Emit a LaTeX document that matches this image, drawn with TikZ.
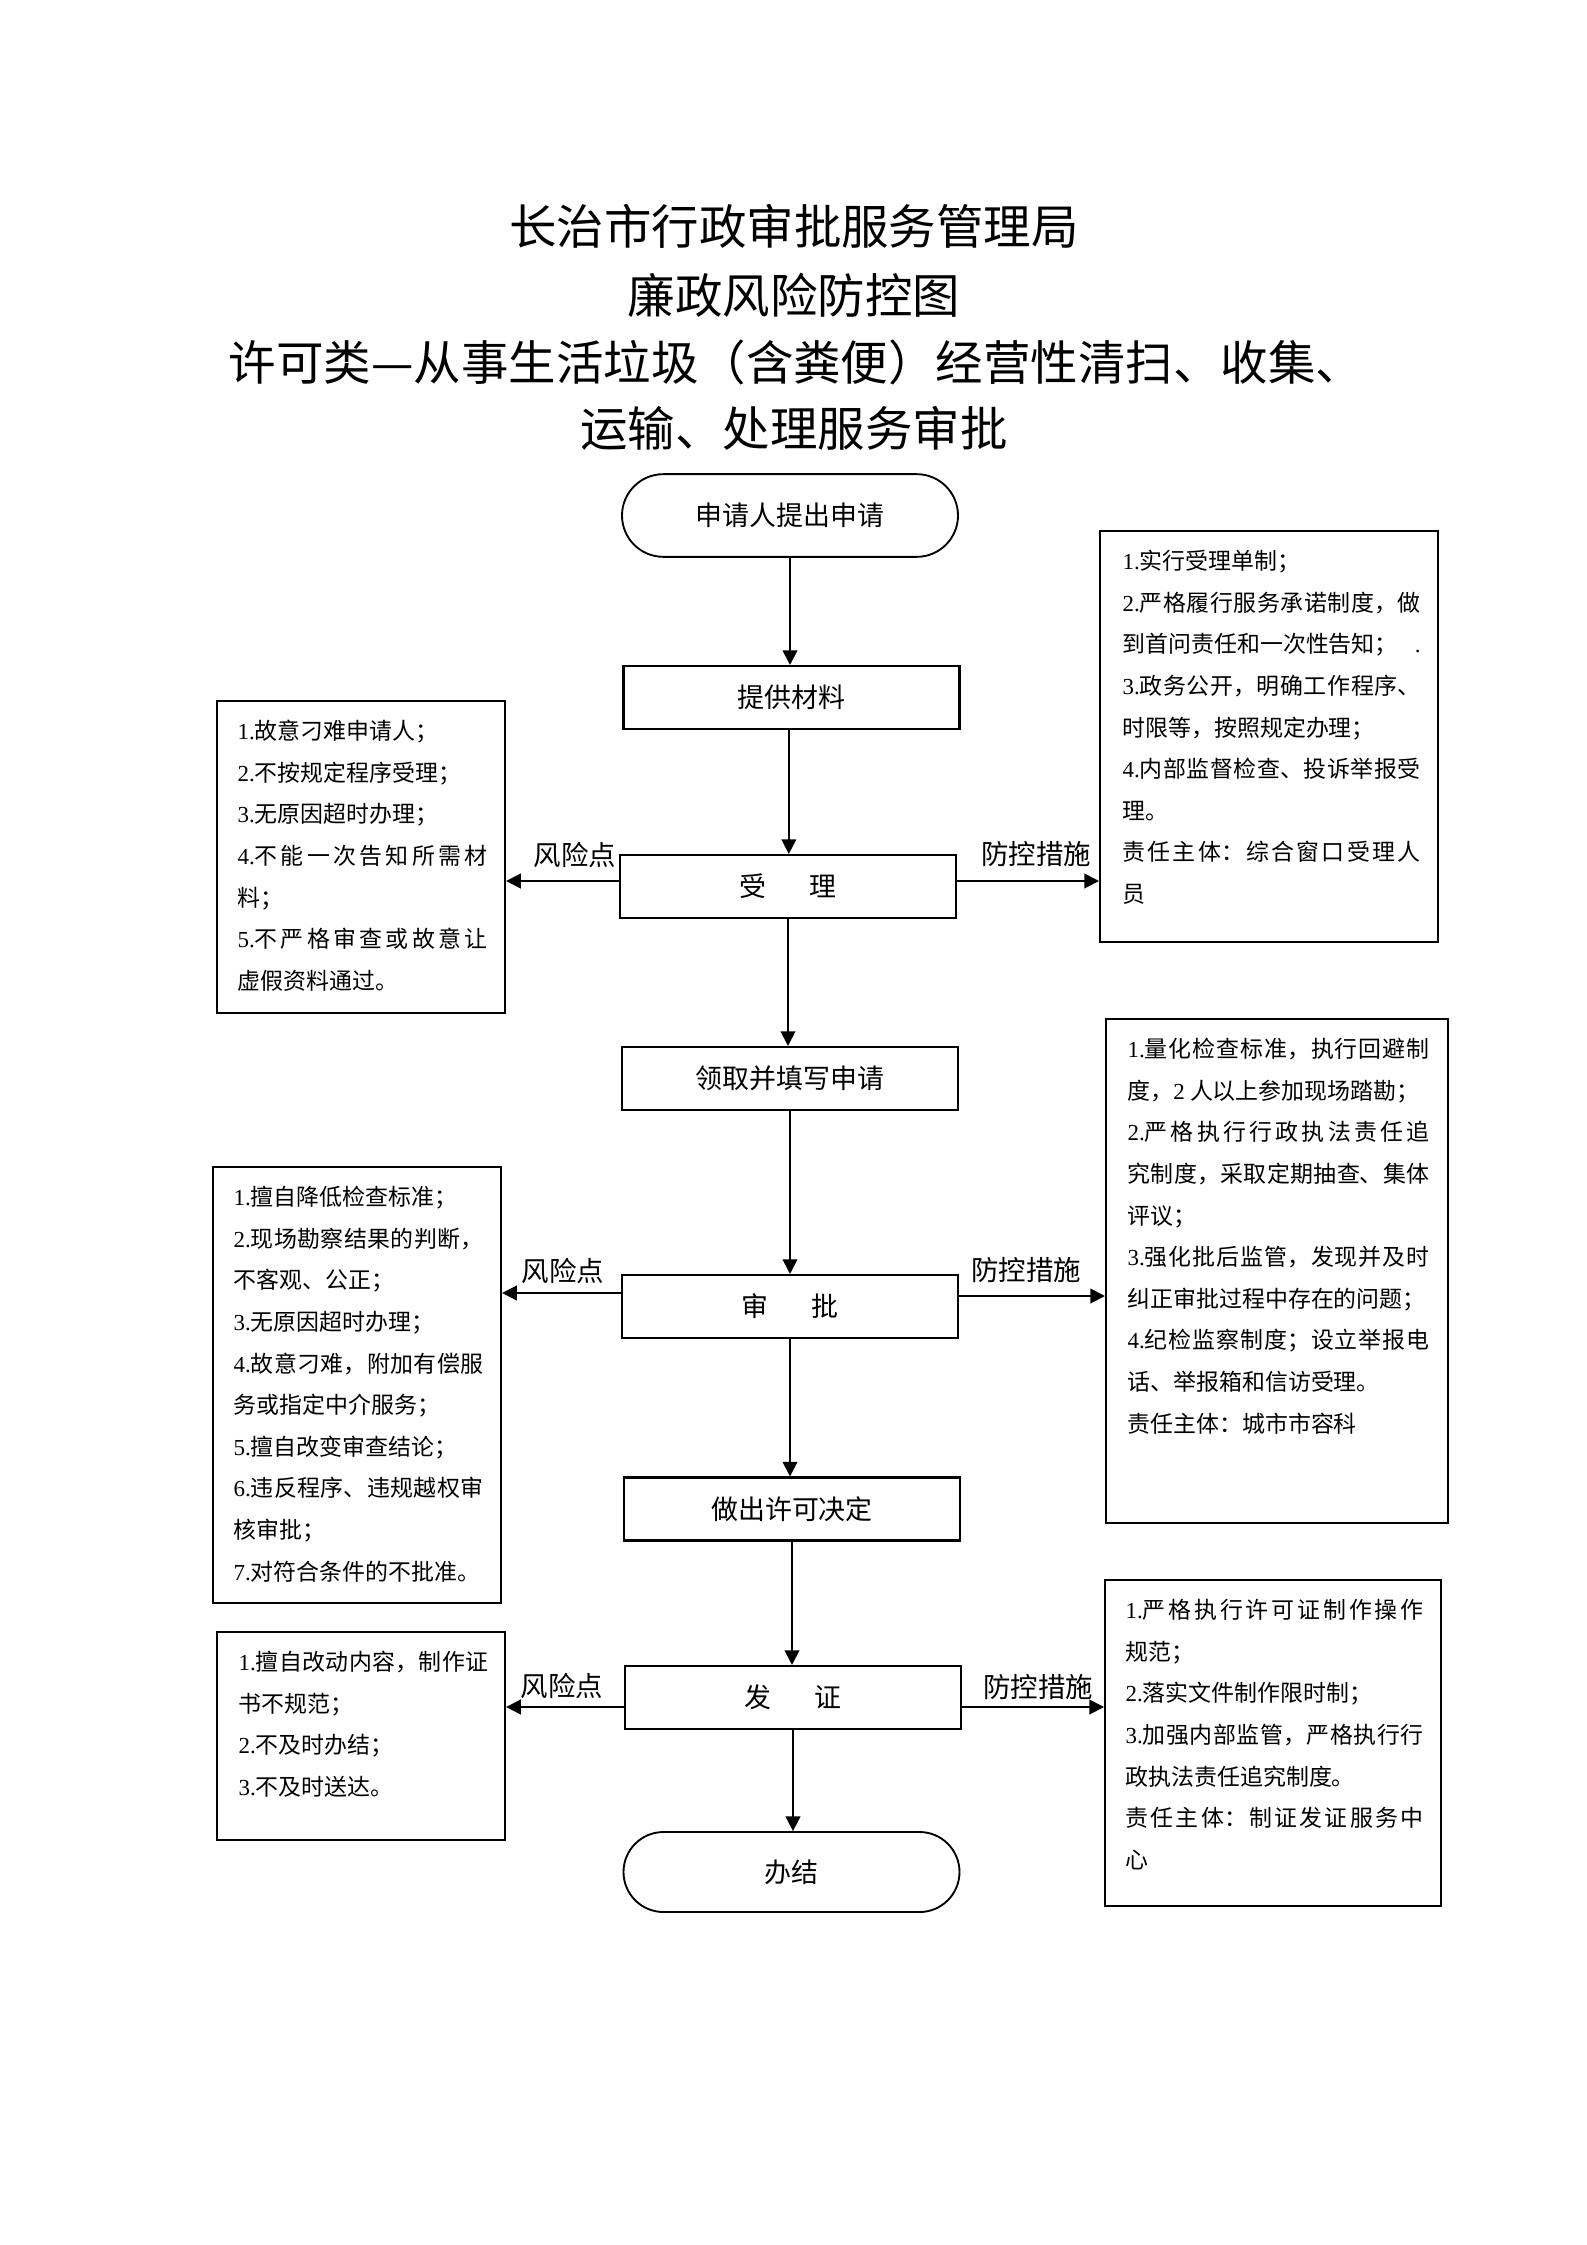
\documentclass[tikz,border=0pt]{standalone}
\usepackage{fontspec}
\setmainfont{Liberation Serif}
\newfontfamily\cjk{Noto Sans CJK SC}
\usetikzlibrary{arrows.meta,calc}
\XeTeXlinebreaklocale "zh"
\XeTeXlinebreakskip=0pt plus 4pt
\newcommand\nm[1]{{\rmfamily #1}}
\begin{document}
\tolerance=10000
\hbadness=10000
\hfuzz=5pt
\begin{tikzpicture}[x=0.375pt,y=-0.375pt,
  titletext/.style={anchor=base,inner sep=0pt,font=\cjk\fontsize{17.8pt}{25pt}\selectfont},
  flow/.style={draw,line width=0.8pt,minimum width=126pt,minimum height=23.6pt,inner sep=0pt,font=\cjk\fontsize{10.1pt}{12pt}\selectfont},
  term/.style={flow,line width=0.7pt,minimum height=31pt,rounded corners=15.5pt},
  infobox/.style={draw,line width=0.8pt,inner sep=0pt,anchor=north west},
  infotext/.style={anchor=north west,inner sep=0pt,align=justify,font=\cjk\fontsize{8.6pt}{15.6pt}\selectfont},
  arr/.style={-{Triangle[length=5.5pt,width=5.5pt]},line width=0.72pt},
  lbl/.style={inner sep=0pt,font=\cjk\fontsize{10.3pt}{12pt}\selectfont}]
\fill[white] (0,0) rectangle (1587,2245);
\useasboundingbox (0,0) rectangle (1587,2245);

% title
\node[titletext] (t1) at (794,244) {长治市行政审批服务管理局};
\node[titletext] (t2) at (794,313) {廉政风险防控图};
\node[titletext] (t3) at (796,380) {许可类—从事生活垃圾（含粪便）经营性清扫、收集、};
\node[titletext] (t4) at (794,446) {运输、处理服务审批};

% main flow
\node[term] (start) at (790,515.5) {申请人提出申请};
\node[flow] (cl) at (791.5,697.5) {提供材料};
\node[flow] (sl) at (788,886.5) {受\hspace{1.6em}理};
\node[flow] (lq) at (790,1078.5) {领取并填写申请};
\node[flow] (sp) at (790,1306.5) {审\hspace{1.6em}批};
\node[flow] (zc) at (792,1509) {做出许可决定};
\node[flow] (fz) at (793,1697.5) {发\hspace{1.6em}证};
\node[term,minimum height=30pt,rounded corners=15pt] (done) at (791.5,1872) {办结};

\draw[arr] (start.south) -- (start.south |- cl.north);
\draw[arr] ([xshift=-1pt]cl.south) -- ([xshift=-1pt]cl.south |- sl.north);
\draw[arr] (sl.south) -- (sl.south |- lq.north);
\draw[arr] (lq.south) -- (lq.south |- sp.north);
\draw[arr] (sp.south) -- (sp.south |- zc.north);
\draw[arr] (zc.south) -- (zc.south |- fz.north);
\draw[arr] (fz.south) -- (fz.south |- done.north);

% side boxes
\node[infobox,minimum width=108pt,minimum height=117pt] (L1) at (216,700) {};
\node[infotext,text width=93.75pt] (L1t) at ($(L1.north west)+(21,10)$) {\strut\nm{1.}故意刁难申请人；\par
\nm{2.}不按规定程序受理；\par
\nm{3.}无原因超时办理；\par
\nm{4.}不能一次告知所需材\linebreak 料；\par
\nm{5.}不严格审查或故意让\linebreak 虚假资料通过。};

\node[infobox,minimum width=126.75pt,minimum height=154.1pt] (R1) at (1099,530) {};
\node[infotext,text width=111.75pt] (R1t) at ($(R1.north west)+(23,10)$) {\strut\nm{1.}实行受理单制；\par
\nm{2.}严格履行服务承诺制度，做\linebreak 到首问责任和一次性告知；\hfill\nm{.}\par
\nm{3.}政务公开，明确工作程序、\linebreak 时限等，按照规定办理；\par
\nm{4.}内部监督检查、投诉举报受\linebreak 理。\par
责任主体：综合窗口受理人\linebreak 员};

\node[infobox,minimum width=108pt,minimum height=163.5pt] (L2) at (212,1166) {};
\node[infotext,text width=93.75pt] (L2t) at ($(L2.north west)+(21,10)$) {\strut\nm{1.}擅自降低检查标准；\par
\nm{2.}现场勘察结果的判断，\linebreak 不客观、公正；\par
\nm{3.}无原因超时办理；\par
\nm{4.}故意刁难，附加有偿服\linebreak 务或指定中介服务；\par
\nm{5.}擅自改变审查结论；\par
\nm{6.}违反程序、违规越权审\linebreak 核审批；\par
\nm{7.}对符合条件的不批准。};

\node[infobox,minimum width=128.25pt,minimum height=189pt] (R2) at (1105,1018) {};
\node[infotext,text width=113.25pt] (R2t) at ($(R2.north west)+(22,10)$) {\strut\nm{1.}量化检查标准，执行回避制\linebreak 度，\nm{2} 人以上参加现场踏勘；\par
\nm{2.}严格执行行政执法责任追\linebreak 究制度，采取定期抽查、集体\linebreak 评议；\par
\nm{3.}强化批后监管，发现并及时\linebreak 纠正审批过程中存在的问题；\par
\nm{4.}纪检监察制度；设立举报电\linebreak 话、举报箱和信访受理。\par
责任主体：城市市容科};

\node[infobox,minimum width=108pt,minimum height=78pt] (L3) at (216,1631) {};
\node[infotext,text width=93.75pt] (L3t) at ($(L3.north west)+(22,10)$) {\strut\nm{1.}擅自改动内容，制作证\linebreak 书不规范；\par
\nm{2.}不及时办结；\par
\nm{3.}不及时送达。};

\node[infobox,minimum width=126pt,minimum height=122.25pt] (R3) at (1104,1579) {};
\node[infotext,text width=111.75pt] (R3t) at ($(R3.north west)+(21,10)$) {\strut\nm{1.}严格执行许可证制作操作\linebreak 规范；\par
\nm{2.}落实文件制作限时制；\par
\nm{3.}加强内部监管，严格执行行\linebreak 政执法责任追究制度。\par
责任主体：制证发证服务中\linebreak 心};

% horizontal connectors
\coordinate (h1) at (0,881);
\coordinate (h2l) at (0,1293);
\coordinate (h2r) at (0,1296);
\coordinate (h3) at (0,1707);
\draw[arr] (sl.west |- h1) -- (L1.east |- h1);
\draw[arr] (sl.east |- h1) -- (R1.west |- h1);
\draw[arr] (sp.west |- h2l) -- (L2.east |- h2l);
\draw[arr] (sp.east |- h2r) -- (R2.west |- h2r);
\draw[arr] (fz.west |- h3) -- (L3.east |- h3);
\draw[arr] (fz.east |- h3) -- (R3.west |- h3);

\node[lbl] (fx1) at (575,855) {风险点};
\node[lbl] (fk1) at (1036,854) {防控措施};
\node[lbl] (fx2) at (563,1271) {风险点};
\node[lbl] (fk2) at (1026,1270) {防控措施};
\node[lbl] (fx3) at (562,1686) {风险点};
\node[lbl] (fk3) at (1038,1687) {防控措施};
\end{tikzpicture}
\end{document}
